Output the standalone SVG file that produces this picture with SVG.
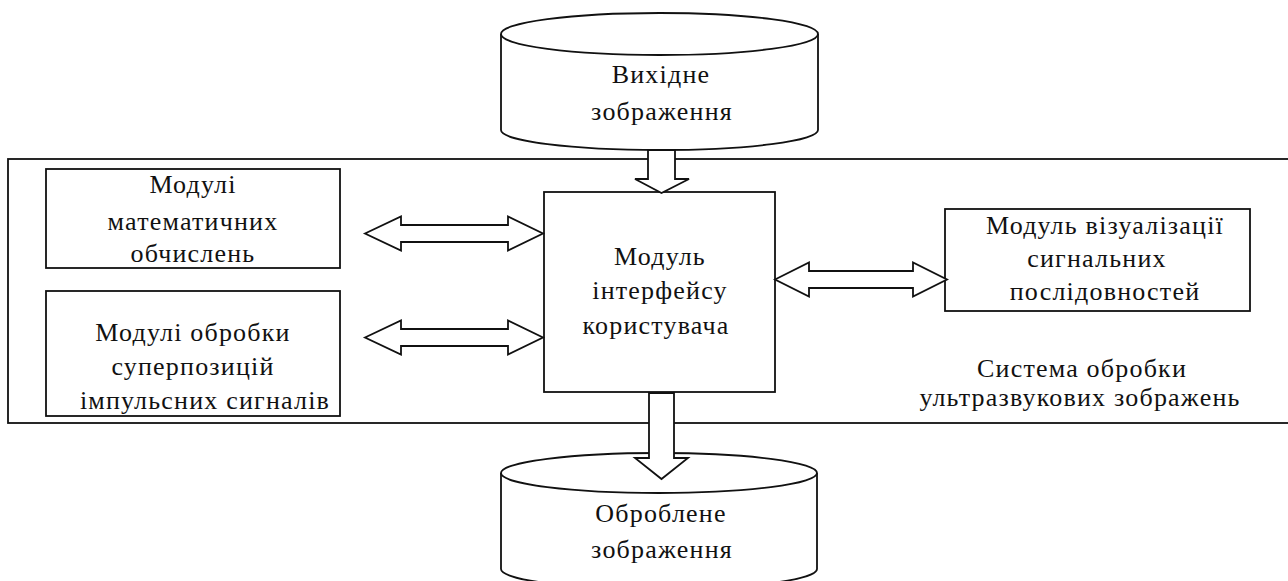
<svg xmlns="http://www.w3.org/2000/svg" width="1288" height="581" viewBox="0 0 1288 581">
<style>
.box{fill:#fff;stroke:#111;stroke-width:1.8}
.sys{fill:none;stroke:#111;stroke-width:1.8}
.arr{fill:#fff;stroke:#111;stroke-width:1.8;stroke-linejoin:miter}
text{font-family:"Liberation Serif","DejaVu Serif",serif;font-size:26px;fill:#111;text-anchor:middle;letter-spacing:1.2px}
</style>
<rect x="0" y="0" width="1288" height="581" fill="#fff"/>
<g id="system">
<rect class="sys" x="8" y="159" width="1300" height="264"/>
<text x="1082" y="377">Система обробки</text>
<text x="1080" y="406">ультразвукових зображень</text>
</g>
<g id="input">
<path class="box" d="M501,34 L501,130 A158.5,20 0 0 0 818,130 L818,34"/>
<ellipse class="box" cx="659.5" cy="34" rx="158.5" ry="21"/>
<text x="661" y="83">Вихідне</text>
<text x="662" y="120">зображення</text>
</g>
<g id="output">
<path class="box" d="M501,473 L501,569 A158,20 0 0 0 817,569 L817,473"/>
<ellipse class="box" cx="659" cy="473" rx="158" ry="20"/>
<text x="661" y="522">Оброблене</text>
<text x="662" y="558">зображення</text>
</g>
<g id="math">
<rect class="box" x="46" y="169" width="294" height="99"/>
<text x="193" y="193">Модулі</text>
<text x="193" y="230">математичних</text>
<text x="193" y="262">обчислень</text>
</g>
<g id="superpos">
<rect class="box" x="46" y="291" width="294" height="125"/>
<text x="193" y="341">Модулі обробки</text>
<text x="193" y="375">суперпозицій</text>
<text x="205" y="409">імпульсних сигналів</text>
</g>
<g id="ui">
<rect class="box" x="544" y="192" width="231" height="200"/>
<text x="660" y="265">Модуль</text>
<text x="660" y="299">інтерфейсу</text>
<text x="656" y="334">користувача</text>
</g>
<g id="vis">
<rect class="box" x="945" y="209" width="305" height="102"/>
<text x="1105" y="234">Модуль візуалізації</text>
<text x="1097" y="267">сигнальних</text>
<text x="1105" y="300">послідовностей</text>
</g>
<g id="connectors">
<path class="arr" d="M648,150 L675,150 L675,179 L689,179 L661.5,193 L635,179 L648,179 Z"/>
<path class="arr" d="M649,393 L674,393 L674,458 L688,458 L661.5,479 L635,458 L649,458 Z"/>
<path class="arr" d="M365,233.5 L401,216.5 L401,225 L508,225 L508,216.5 L543,233.5 L508,250.5 L508,242 L401,242 L401,250.5 Z"/>
<path class="arr" d="M365,337.5 L401,320.5 L401,329 L508,329 L508,320.5 L543,337.5 L508,354.5 L508,346 L401,346 L401,354.5 Z"/>
<path class="arr" d="M775,279.5 L809,262.5 L809,271 L913,271 L913,262.5 L947,279.5 L913,296.5 L913,288 L809,288 L809,296.5 Z"/>
</g>
</svg>
